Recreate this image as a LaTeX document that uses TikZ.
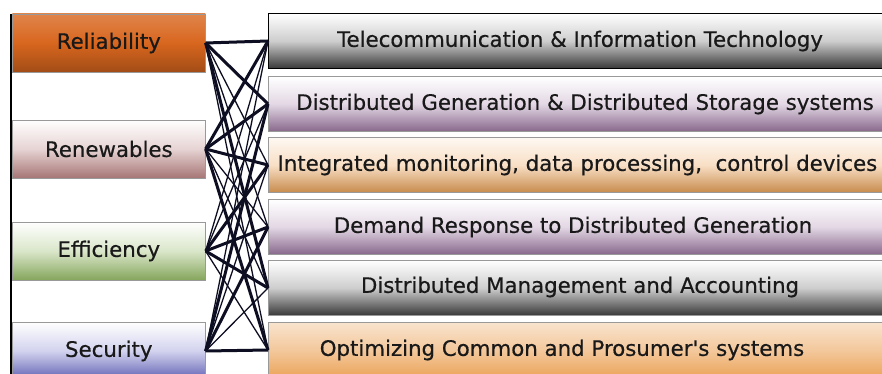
\documentclass[tikz,border=0pt]{standalone}
\usepackage{fontspec}
\setmainfont{DejaVu Sans}[FakeBold=0.5]
\usetikzlibrary{positioning}

\definecolor{relorange}{HTML}{D8661E}
\definecolor{renrose}{HTML}{B98282}
\definecolor{effgreen}{HTML}{94B866}
\definecolor{secblue}{HTML}{6A6AC8}
\definecolor{techgray}{HTML}{383838}
\definecolor{techpurple}{HTML}{A07AA5}
\definecolor{techtan}{HTML}{EBA45A}
\definecolor{linkink}{HTML}{0E0E22}

\tikzset{
  goal/.style={rectangle, draw=black!40, line width=0.6pt, minimum width=193pt,
    minimum height=58pt, inner sep=0pt, anchor=west},
  tech/.style={rectangle, draw=black!40, line width=0.6pt, minimum width=660pt,
    minimum height=55pt, inner sep=0pt, anchor=west},
  label text/.style={font=\fontsize{21.3}{24}\selectfont, text=black!90},
  link/.style={draw=linkink, line width=1.3pt},
  heavy/.style={line width=3pt}
}

\begin{document}
\begin{tikzpicture}[x=1pt, y=-1pt]
    \useasboundingbox (0,0) rectangle (882,374);
    \clip (0,0) rectangle (882,374);

    % Goals {rel, ren, eff, sec}
    \node [goal, top color=relorange!80!white, bottom color=relorange!75!black,
           middle color=relorange]                          (rel) at (12,43)    {};
    \node [goal, top color=white, bottom color=renrose!90!black, middle color=renrose!35]  (ren) at (12,149) {};
    \node [goal, top color=white, bottom color=effgreen!90!black, middle color=effgreen!35] (eff) at (12,251) {};
    \node [goal, top color=white, bottom color=secblue!90!black, middle color=secblue!30]  (sec) at (12,351)   {};
    \node [label text] at (rel) {Reliability};
    \node [label text] at (ren) {Renewables};
    \node [label text] at (eff) {Efficiency};
    \node [label text] at (sec) {Security};
    \draw [line width=1.4pt] (11,14) -- (11,374);

    % Technologies {r1, r2, ..., r6}
    \node [tech, top color=white, bottom color=techgray, middle color=techgray!25,
           draw=black, line width=1pt]                             (r1) at (268,41)    {};
    \node [tech, top color=white, bottom color=techpurple!85!black, middle color=techpurple!30] (r2) at (268,104) {};
    \node [tech, top color=techtan!8, bottom color=techtan!85!black, middle color=techtan!35]   (r3) at (268,165) {};
    \node [tech, top color=white, bottom color=techpurple!85!black, middle color=techpurple!30] (r4) at (268,227)   {};
    \node [tech, top color=white, bottom color=techgray, middle color=techgray!25]     (r5) at (268,288) {};
    \node [tech, top color=techtan!30, bottom color=techtan, middle color=techtan!60]  (r6) at (268,350)   {};
    \node [label text] at (580,41)  {Telecommunication \& Information Technology};
    \node [label text] at (585,104) {Distributed Generation \& Distributed Storage systems};
    \node [label text, anchor=west] at (274,165) {Integrated monitoring, data processing,\ \ control devices};
    \node [label text] at (573,227) {Demand Response to Distributed Generation};
    \node [label text] at (580,287) {Distributed Management and Accounting};
    \node [label text] at (562,350) {Optimizing Common and Prosumer\textquotesingle s systems};

    % Links
    \foreach \g in {rel,ren,eff,sec}
      \foreach \t in {1,...,6}
        \path [link] (\g.east) edge (r\t.west);
    \foreach \g/\t in {rel/1, rel/2, rel/5, ren/1, ren/2, ren/3, ren/6,
                       eff/3, eff/4, eff/5, sec/2, sec/4, sec/6}
      \path [link, heavy] (\g.east) edge (r\t.west);

\end{tikzpicture}
\end{document}
